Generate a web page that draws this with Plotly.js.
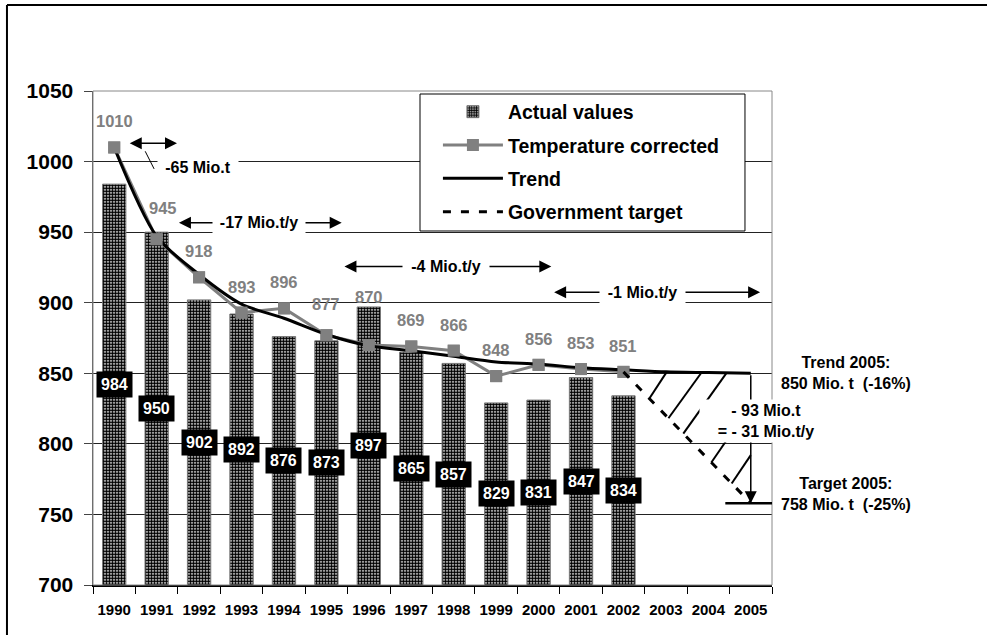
<!DOCTYPE html>
<html>
<head>
<meta charset="utf-8">
<script src="https://cdn.plot.ly/plotly-3.0.1.min.js"></script>
<style>
  html, body { margin: 0; padding: 0; background: #fff; }
  #chart { width: 987px; height: 635px; }
</style>
</head>
<body>
<div id="chart"></div>
<script>
// ---------- data ----------
const years = [1990, 1991, 1992, 1993, 1994, 1995, 1996, 1997, 1998, 1999, 2000, 2001, 2002, 2003, 2004, 2005];
const actualYears = [1990, 1991, 1992, 1993, 1994, 1995, 1996, 1997, 1998, 1999, 2000, 2001, 2002];
const actualValues = [984, 950, 902, 892, 876, 873, 897, 865, 857, 829, 831, 847, 834];
const tempCorrected = [1010, 945, 918, 893, 896, 877, 870, 869, 866, 848, 856, 853, 851];
const trendValues = [1010, 947, 920, 899, 889, 877.5, 869.5, 866, 862, 858, 856.5, 854, 852.5, 851, 850.5, 850];
const targetYears = [2002, 2005];
const targetValues = [851, 758];
const seriesNames = ['Actual values', 'Temperature corrected', 'Trend', 'Government target'];

// ---------- style ----------
const FONT = 'Arial, "Liberation Sans", sans-serif';
const Y_MIN = 700, Y_MAX = 1050;
const GRAY = '#808080';
const tcLabelShift = {1991: [6, 31], 1995: [0, 31], 1996: [0, 48]};

function interp(xs, ys, x) {
  for (let i = 0; i < xs.length - 1; i++) {
    if (x >= xs[i] && x <= xs[i + 1]) {
      const t = (x - xs[i]) / (xs[i + 1] - xs[i]);
      return ys[i] + t * (ys[i + 1] - ys[i]);
    }
  }
  return ys[ys.length - 1];
}

const traces = [
  {
    type: 'bar', name: seriesNames[0], x: actualYears, y: actualValues,
    width: 0.55, legendgroup: 'a', legendrank: 1,
    marker: {
      color: '#ffffff',
      line: {color: '#777', width: 1},
      pattern: {shape: '.', size: 3, solidity: 0.72, fgcolor: '#000', bgcolor: '#fff', fillmode: 'replace'}
    },
    hoverinfo: 'skip'
  },
  {
    type: 'scatter', mode: 'lines+markers', name: seriesNames[1], x: actualYears, y: tempCorrected,
    line: {color: GRAY, width: 3},
    marker: {symbol: 'square', size: 12, color: GRAY},
    legendgroup: 'b', legendrank: 2, hoverinfo: 'skip'
  },
  {
    type: 'scatter', mode: 'lines', name: seriesNames[2], x: years, y: trendValues,
    line: {color: '#000', width: 3, shape: 'spline', smoothing: 0.8},
    legendgroup: 'c', legendrank: 3, hoverinfo: 'skip'
  },
  {
    type: 'scatter', mode: 'markers', name: seriesNames[1], x: actualYears, y: tempCorrected,
    marker: {symbol: 'square', size: 12, color: GRAY},
    showlegend: false, legendgroup: 'b', hoverinfo: 'skip'
  },
  {
    type: 'scatter', mode: 'lines', name: seriesNames[3], x: targetYears, y: targetValues,
    line: {color: '#000', width: 3, dash: '8px,10px'},
    legendgroup: 'd', legendrank: 4, hoverinfo: 'skip'
  }
];

const annotations = [];

// black value boxes inside bars (middle of each bar)
actualYears.forEach((yr, i) => {
  annotations.push({
    x: yr, y: (actualValues[i] + Y_MIN) / 2, xref: 'x', yref: 'y',
    text: String(actualValues[i]), showarrow: false,
    bgcolor: '#000', borderpad: 4,
    font: {family: FONT, size: 16, color: '#fff', weight: 'bold'}
  });
});

// gray labels for temperature corrected values
actualYears.forEach((yr, i) => {
  const s = tcLabelShift[yr] || [0, 26];
  annotations.push({
    x: yr, y: tempCorrected[i], xref: 'x', yref: 'y',
    text: String(tempCorrected[i]), showarrow: false,
    xshift: s[0], yshift: s[1],
    font: {family: FONT, size: 16.5, color: GRAY, weight: 'bold'}
  });
});

// double-headed arrows for the yearly reduction rates
const rateArrows = [
  {x0: 1990.33, x1: 1991.48, y: 1013},
  {x0: 1991.49, x1: 1995.36, y: 956.6},
  {x0: 1995.39, x1: 2000.30, y: 925.6},
  {x0: 2000.33, x1: 2005.22, y: 907.4}
];
rateArrows.forEach(a => {
  annotations.push({
    x: a.x1, y: a.y, ax: a.x0, ay: a.y, xref: 'x', yref: 'y', axref: 'x', ayref: 'y',
    text: ' ', font: {size: 1}, showarrow: true, arrowside: 'end+start',
    arrowhead: 2, startarrowhead: 2, arrowsize: 1.6, startarrowsize: 1.6, arrowwidth: 1.5,
    arrowcolor: '#000', standoff: 0, startstandoff: 0
  });
});

const rateTexts = [
  {x: 1991.98, y: 995.7, t: '-65 Mio.t', w: 76},
  {x: 1993.42, y: 956.6, t: '-17 Mio.t/y', w: 88},
  {x: 1997.82, y: 925.6, t: '-4 Mio.t/y', w: 82},
  {x: 2002.46, y: 907.4, t: '-1 Mio.t/y', w: 81}
];
rateTexts.forEach(a => {
  annotations.push({
    x: a.x, y: a.y, xref: 'x', yref: 'y', text: a.t, showarrow: false,
    bgcolor: '#fff', width: a.w, borderpad: 2,
    font: {family: FONT, size: 16, color: '#000', weight: 'bold'}
  });
});

// vertical gap arrow trend -> target in 2005
annotations.push({
  x: 2005, y: targetValues[1], ax: 2005, ay: trendValues[trendValues.length - 1],
  xref: 'x', yref: 'y', axref: 'x', ayref: 'y', text: ' ', font: {size: 1},
  showarrow: true, arrowhead: 2, arrowsize: 1.6, arrowwidth: 1.5, arrowcolor: '#000', standoff: 0
});
annotations.push({
  x: 2005.36, y: 816, xref: 'x', yref: 'y',
  text: '- 93 Mio.t<br>= - 31 Mio.t/y', showarrow: false,
  bgcolor: '#fff', width: 128, borderpad: 2,
  font: {family: FONT, size: 16, color: '#000', weight: 'bold'}
});

annotations.push({
  x: 1.109, y: 850, xref: 'paper', yref: 'y', xanchor: 'center', showarrow: false,
  text: 'Trend 2005:<br>850 Mio. t \u00a0(-16%)',
  font: {family: FONT, size: 16, color: '#000', weight: 'bold'}
});
annotations.push({
  x: 1.109, y: 764.5, xref: 'paper', yref: 'y', xanchor: 'center', showarrow: false,
  text: 'Target 2005:<br>758 Mio. t \u00a0(-25%)',
  font: {family: FONT, size: 16, color: '#000', weight: 'bold'}
});

// ---------- shapes ----------
const shapes = [];
// outer frame (left & top edges visible)
shapes.push({type: 'line', xref: 'paper', yref: 'paper', x0: -0.1267, x1: -0.1267, y0: -0.3, y1: 1.1741, line: {color: '#000', width: 2}});
shapes.push({type: 'line', xref: 'paper', yref: 'paper', x0: -0.1267, x1: 1.5, y0: 1.1741, y1: 1.1741, line: {color: '#000', width: 2}});
// plot area frame
shapes.push({type: 'rect', xref: 'paper', yref: 'paper', x0: 0, x1: 1, y0: 0, y1: 1, line: {color: '#888', width: 1}, layer: 'above'});
// legend box
shapes.push({type: 'rect', xref: 'paper', yref: 'paper', x0: 0.4816, x1: 0.9602, y0: 0.7166, y1: 0.9939, fillcolor: '#fff', line: {color: '#000', width: 1}, layer: 'above'});
// leader line for -65 Mio.t
shapes.push({type: 'line', xref: 'x', yref: 'y', x0: 1990.73, y0: 1007.3, x1: 1990.94, y1: 994.8, line: {color: '#000', width: 1}});
// hatching between trend and target
const hatchFromTrend = [[2003.02, 2002.61], [2003.84, 2003.06], [2004.43, 2003.41]];
hatchFromTrend.forEach(h => {
  shapes.push({type: 'line', xref: 'x', yref: 'y',
    x0: h[0], y0: interp(years, trendValues, h[0]),
    x1: h[1], y1: interp(targetYears, targetValues, h[1]),
    line: {color: '#000', width: 2}});
});
const hatchFromArrow = [[827.5, 2004.07], [792, 2004.55]];
hatchFromArrow.forEach(h => {
  shapes.push({type: 'line', xref: 'x', yref: 'y',
    x0: 2005, y0: h[0],
    x1: h[1], y1: interp(targetYears, targetValues, h[1]),
    line: {color: '#000', width: 2}});
});
// target level bar
shapes.push({type: 'line', xref: 'x', yref: 'y', x0: 2004.4, x1: 2005.5, y0: targetValues[1], y1: targetValues[1], line: {color: '#000', width: 2.5}});

const layout = {
  width: 987, height: 635,
  margin: {l: 93, r: 215, t: 91, b: 50},
  paper_bgcolor: '#fff', plot_bgcolor: '#fff',
  font: {family: FONT, color: '#000'},
  showlegend: true,
  legend: {
    x: 0.508, y: 0.997, xanchor: 'left', yanchor: 'top',
    bgcolor: 'rgba(0,0,0,0)', borderwidth: 0,
    font: {family: FONT, size: 19.5, color: '#000', weight: 'bold'},
    traceorder: 'grouped', tracegroupgap: 5, itemwidth: 60
  },
  xaxis: {
    range: [1989.5, 2005.5], tickmode: 'array', tickvals: years,
    ticktext: years.map(String), ticks: '', showgrid: false, zeroline: false,
    showline: true, linecolor: '#000', linewidth: 1.5,
    tickfont: {family: FONT, size: 15, color: '#000', weight: 'bold'},
    ticklabelstandoff: 10,
    minor: {tick0: 1989.5, dtick: 1, ticks: 'outside', ticklen: 7, tickcolor: '#000', tickwidth: 1, showgrid: false}
  },
  yaxis: {
    range: [Y_MIN, Y_MAX], tickmode: 'linear', tick0: 700, dtick: 50,
    ticks: 'outside', ticklen: 8, tickcolor: '#444', tickwidth: 1,
    showgrid: true, gridcolor: '#222', gridwidth: 1, zeroline: false,
    showline: true, linecolor: '#555', linewidth: 1.5,
    tickfont: {family: FONT, size: 21, color: '#000', weight: 'bold'},
    ticklabelstandoff: 6
  },
  bargap: 0.45,
  annotations: annotations,
  shapes: shapes
};

Plotly.newPlot('chart', traces, layout, {staticPlot: true, displayModeBar: false});
</script>
</body>
</html>
